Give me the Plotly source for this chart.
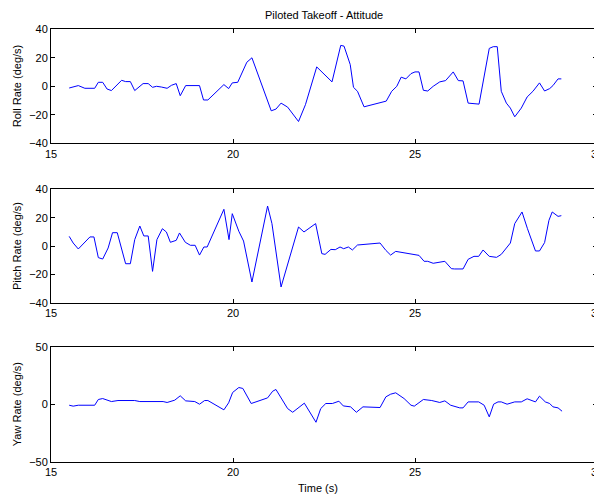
import plotly.graph_objects as go
from plotly.subplots import make_subplots

# ---- Data ----
roll_t = [15.50, 15.75, 15.93, 16.20, 16.30, 16.42, 16.54, 16.66, 16.94, 17.05, 17.18, 17.30,
          17.53, 17.67, 17.79, 17.90, 18.03, 18.19, 18.31, 18.44, 18.55, 18.70, 19.08, 19.19,
          19.31, 19.75, 19.88, 19.98, 20.13, 20.38, 20.52, 21.05, 21.18, 21.32, 21.50, 21.80,
          21.99, 22.30, 22.72, 22.96, 23.05, 23.22, 23.31, 23.42, 23.60, 24.21, 24.36, 24.50,
          24.62, 24.75, 24.89, 25.00, 25.11, 25.23, 25.35, 25.50, 25.68, 25.84, 26.05, 26.19,
          26.32, 26.46, 26.76, 26.90, 27.04, 27.15, 27.26, 27.37, 27.51, 27.62, 27.74, 27.92,
          28.08, 28.24, 28.42, 28.56, 28.70, 28.79, 28.93, 29.02]
roll_rate = [-1.2, 0.5, -1.4, -1.4, 2.8, 2.8, -1.9, -3.0, 4.2, 3.3, 3.3, -3.0,
             1.9, 1.9, -0.7, 0.0, -0.5, -1.4, 0.7, 1.9, -6.6, 0.5, 0.5, -9.6,
             -9.6, 1.2, -1.6, 2.4, 2.8, 16.9, 20.0, -17.2, -16.0, -11.8, -14.6, -24.7,
             -12.9, 13.6, 3.1, 28.7, 28.2, 15.3, -0.7, -3.5, -14.4, -10.4, -3.5, 0.0,
             6.4, 5.2, 8.9, 10.1, 10.1, -2.8, -3.3, 0.0, 3.1, 4.0, 10.1, 4.0,
             3.8, -11.8, -12.5, 8.2, 26.6, 27.8, 27.8, -3.5, -11.8, -15.3, -21.4, -15.3,
             -7.5, -3.5, 2.4, -3.3, -1.6, 0.5, 5.2, 5.2]

pitch_t = [15.50, 15.61, 15.75, 15.93, 16.07, 16.18, 16.30, 16.42, 16.57, 16.69, 16.82, 17.05,
           17.18, 17.30, 17.44, 17.55, 17.67, 17.79, 17.91, 18.06, 18.17, 18.28, 18.44, 18.53,
           18.69, 18.83, 18.96, 19.08, 19.20, 19.29, 19.75, 19.89, 19.98, 20.16, 20.29, 20.52,
           20.95, 21.07, 21.32, 21.80, 21.95, 22.27, 22.44, 22.53, 22.69, 22.81, 22.94, 23.04,
           23.17, 23.28, 23.42, 24.04, 24.20, 24.33, 24.47, 25.11, 25.25, 25.35, 25.50, 25.82,
           26.00, 26.09, 26.32, 26.46, 26.62, 26.75, 26.87, 27.04, 27.24, 27.37, 27.62, 27.74,
           27.94, 28.09, 28.18, 28.31, 28.42, 28.56, 28.68, 28.77, 28.93, 29.02]
pitch_rate = [6.8, 2.1, -2.1, 2.8, 6.4, 6.4, -8.2, -9.2, -1.4, 9.4, 9.4, -12.5,
              -12.5, 4.5, 14.1, 7.1, 7.1, -17.9, 4.5, 12.2, 9.9, 2.6, 4.0, 9.2,
              2.6, 0.5, 0.5, -6.4, -0.7, -0.7, 25.9, 4.5, 22.8, 10.4, 3.5, -25.4,
              28.2, 15.8, -28.9, 13.4, 9.9, 15.8, -5.4, -5.9, -2.4, -2.6, -0.7, -1.9,
              -0.7, -2.8, 0.7, 2.1, -3.1, -6.4, -3.8, -6.6, -10.8, -10.8, -12.2, -10.8,
              -16.0, -16.2, -16.2, -9.4, -7.3, -7.3, -2.8, -7.3, -8.0, -5.9, 2.1, 15.8,
              24.0, 12.2, 5.9, -3.5, -3.5, 2.4, 18.1, 24.0, 20.9, 21.4]

yaw_t = [15.50, 15.61, 15.75, 16.20, 16.30, 16.42, 16.66, 16.84, 17.30, 17.44, 18.08, 18.19,
         18.40, 18.55, 18.70, 18.95, 19.08, 19.22, 19.31, 19.75, 19.88, 19.99, 20.16, 20.27,
         20.50, 20.95, 21.09, 21.18, 21.50, 21.64, 21.96, 22.28, 22.41, 22.55, 22.73, 22.91,
         23.03, 23.23, 23.39, 23.57, 24.04, 24.20, 24.33, 24.47, 24.70, 24.89, 24.98, 25.23,
         25.46, 25.68, 25.82, 25.98, 26.23, 26.32, 26.46, 26.75, 26.90, 27.04, 27.16, 27.28,
         27.37, 27.53, 27.74, 27.92, 28.08, 28.21, 28.31, 28.42, 28.58, 28.70, 28.79, 28.93,
         29.04]
yaw_rate = [-0.9, -1.7, -0.9, -0.9, 4.1, 4.9, 2.3, 3.2, 3.2, 2.3, 2.3, 1.5,
            3.5, 7.3, 2.9, 2.3, 0.0, 3.2, 3.2, -4.9, 1.2, 10.2, 14.5, 13.7,
            0.6, 5.5, 11.3, 12.8, -3.8, -7.0, 0.9, -15.7, -3.8, 0.6, 0.6, 2.6,
            -1.5, -2.3, -7.0, -2.3, -2.9, 6.4, 8.7, 9.9, 4.9, -0.9, -1.7, 4.1,
            3.2, 1.5, 2.9, -0.9, -3.2, -3.2, 2.0, 2.0, -0.9, -11.0, 0.0, 2.0,
            2.0, 0.0, 2.0, 2.0, 4.7, 3.5, 2.0, 7.0, 2.0, 0.6, -2.3, -3.2,
            -6.1]

x_ticks = [15, 20, 25, 30]
rp_ticks = [-40, -20, 0, 20, 40]
yaw_ticks = [-50, 0, 50]

title_text = "Piloted Takeoff - Attitude"
y_titles = ["Roll Rate (deg/s)", "Pitch Rate (deg/s)", "Yaw Rate (deg/s)"]
x_title = "Time (s)"

FONT = "Liberation Sans, Arial, sans-serif"
OFF = 8  # default page body margin
W, H = 602 - OFF, 496 - OFF
ML, MR, MT, MB = 51 - OFF, 5, 29 - OFF, 34
PW = W - ML - MR
PH = H - MT - MB


def px_to_paper_x(px):
    return (px - OFF - ML) / PW


def px_to_paper_y(py):
    return (MT + PH - (py - OFF)) / PH


fig = make_subplots(rows=3, cols=1)

series = [(roll_t, roll_rate), (pitch_t, pitch_rate), (yaw_t, yaw_rate)]
for i, (t, v) in enumerate(series):
    fig.add_trace(go.Scatter(x=t, y=v, mode="lines",
                             line=dict(color="#0000FF", width=1),
                             showlegend=False, hoverinfo="skip"), row=i + 1, col=1)

# plot-area page-pixel extents (top, bottom) of each panel
panels_px = [(29.3, 143.3), (189.3, 302.7), (346.7, 461.7)]
domains = [[max(0.0, px_to_paper_y(b)), min(1.0, px_to_paper_y(t))] for (t, b) in panels_px]

axis_common = dict(showline=True, linecolor="black", linewidth=1, mirror="ticks",
                   ticks="inside", ticklen=4, tickcolor="black", showgrid=False,
                   zeroline=False, automargin=False, ticklabeloverflow="allow",
                   tickfont=dict(family=FONT, size=11, color="black"))
for i in range(3):
    xa = "xaxis" if i == 0 else f"xaxis{i+1}"
    ya = "yaxis" if i == 0 else f"yaxis{i+1}"
    fig.layout[xa].update(range=[15, 30], tickvals=x_ticks, domain=[0, 1], **axis_common)
    yt = rp_ticks if i < 2 else yaw_ticks
    rng = [-40, 40] if i < 2 else [-50, 50]
    fig.layout[ya].update(range=rng, tickvals=yt, domain=domains[i], **axis_common)
    t, b = panels_px[i]
    fig.add_annotation(text=y_titles[i], xref="paper", yref="paper",
                       x=px_to_paper_x(17), y=px_to_paper_y((t + b) / 2),
                       xanchor="center", yanchor="middle", textangle=-90, showarrow=False,
                       font=dict(family=FONT, size=11, color="black"))

fig.add_annotation(text=x_title, xref="paper", yref="paper",
                   x=px_to_paper_x(318), y=px_to_paper_y(488),
                   xanchor="center", yanchor="middle", showarrow=False,
                   font=dict(family=FONT, size=11, color="black"))

fig.add_annotation(text=title_text, xref="paper", yref="paper",
                   x=px_to_paper_x(324), y=px_to_paper_y(15),
                   xanchor="center", yanchor="middle", showarrow=False,
                   font=dict(family=FONT, size=11, color="black"))

fig.update_layout(width=W, height=H, margin=dict(l=ML, r=MR, t=MT, b=MB, autoexpand=False),
                  paper_bgcolor="white", plot_bgcolor="white")

fig.write_html("out.html")
